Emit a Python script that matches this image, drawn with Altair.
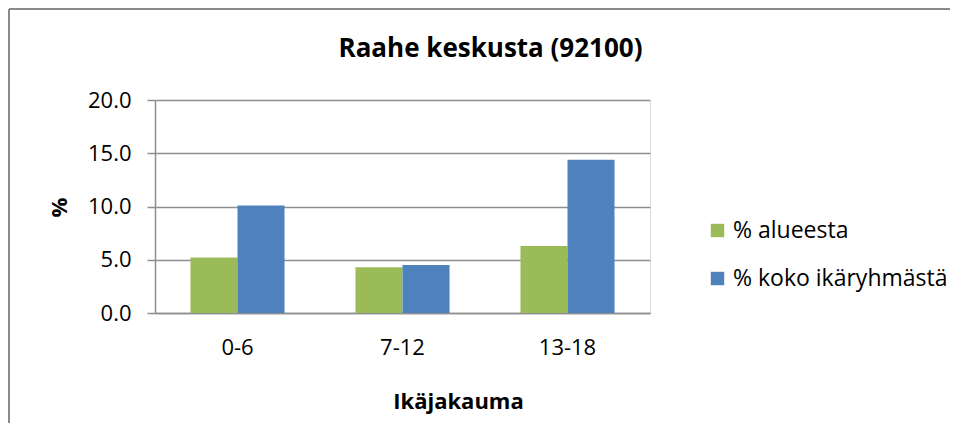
import altair as alt
import pandas as pd

groups = ["0-6", "7-12", "13-18"]
series = ["% alueesta", "% koko ikäryhmästä"]
alueesta = [5.2, 4.3, 6.3]
koko = [10.1, 4.5, 14.4]
colors = ["#9BBB59", "#4F81BD"]
y_ticks = [0, 5, 10, 15, 20]

rows = []
for g, a, k in zip(groups, alueesta, koko):
    rows.append({"group": g, "series": series[0], "value": a})
    rows.append({"group": g, "series": series[1], "value": k})
df = pd.DataFrame(rows)

FONT = "Open Sans"
GRID = "#8E8E8E"
W, H = 495, 213

bars = alt.Chart(df).mark_bar().encode(
    x=alt.X("group:N", sort=groups,
            scale=alt.Scale(paddingInner=0.43, paddingOuter=0.215),
            axis=alt.Axis(title="Ikäjakauma", labelAngle=0, ticks=False,
                          domainColor=GRID, domainWidth=1.5,
                          labelFont=FONT, labelFontSize=22, labelColor="#000",
                          labelPadding=24,
                          titleFont=FONT, titleFontSize=22, titleFontWeight="bold",
                          titleColor="#000", titleX=303, titleY=95,
                          titleBaseline="alphabetic")),
    xOffset=alt.XOffset("series:N", sort=series,
                        scale=alt.Scale(paddingInner=0, paddingOuter=0)),
    y=alt.Y("value:Q",
            scale=alt.Scale(domain=[0, 20], nice=False),
            axis=alt.Axis(title="%", values=y_ticks, format=".1f",
                          domainColor=GRID, domainWidth=1.5,
                          grid=True, gridColor=GRID, gridWidth=1.5,
                          tickColor=GRID, tickWidth=1.5, tickSize=8,
                          labelFont=FONT, labelFontSize=22, labelColor="#000",
                          labelPadding=16,
                          titleFont=FONT, titleFontSize=22, titleFontWeight="bold",
                          titleColor="#000", titleX=-96, titleY=107,
                          titleBaseline="middle")),
    color=alt.Color("series:N", sort=series,
                    scale=alt.Scale(domain=series, range=colors),
                    legend=alt.Legend(title=None, orient="none",
                                      legendX=551, legendY=119,
                                      symbolType="square", symbolSize=180,
                                      symbolStrokeWidth=0,
                                      labelFont=FONT, labelFontSize=23,
                                      labelColor="#000", labelOffset=4,
                                      labelLimit=400,
                                      rowPadding=24)),
)

border_left = alt.Chart(df).mark_rule(color="#8A8A8A", strokeWidth=2).encode(
    x=alt.value(-146), y=alt.value(-91), y2=alt.value(H + 130))
border_top = alt.Chart(df).mark_rule(color="#8A8A8A", strokeWidth=2).encode(
    x=alt.value(-146), x2=alt.value(W + 320), y=alt.value(-91))

chart = alt.layer(bars, border_left, border_top).properties(
    width=W, height=H,
    title=alt.Title("Raahe keskusta (92100)", font=FONT, fontSize=26,
                    fontWeight="bold", color="#000", anchor="middle",
                    frame="group", dx=88, offset=-75, baseline="alphabetic"),
    autosize=alt.AutoSizeParams(type="none"),
    padding={"left": 147, "top": 92, "right": 300, "bottom": 110},
).configure_view(stroke=None).configure(background="white")

chart.save("out.html", embed_options={"renderer": "svg", "actions": False})
